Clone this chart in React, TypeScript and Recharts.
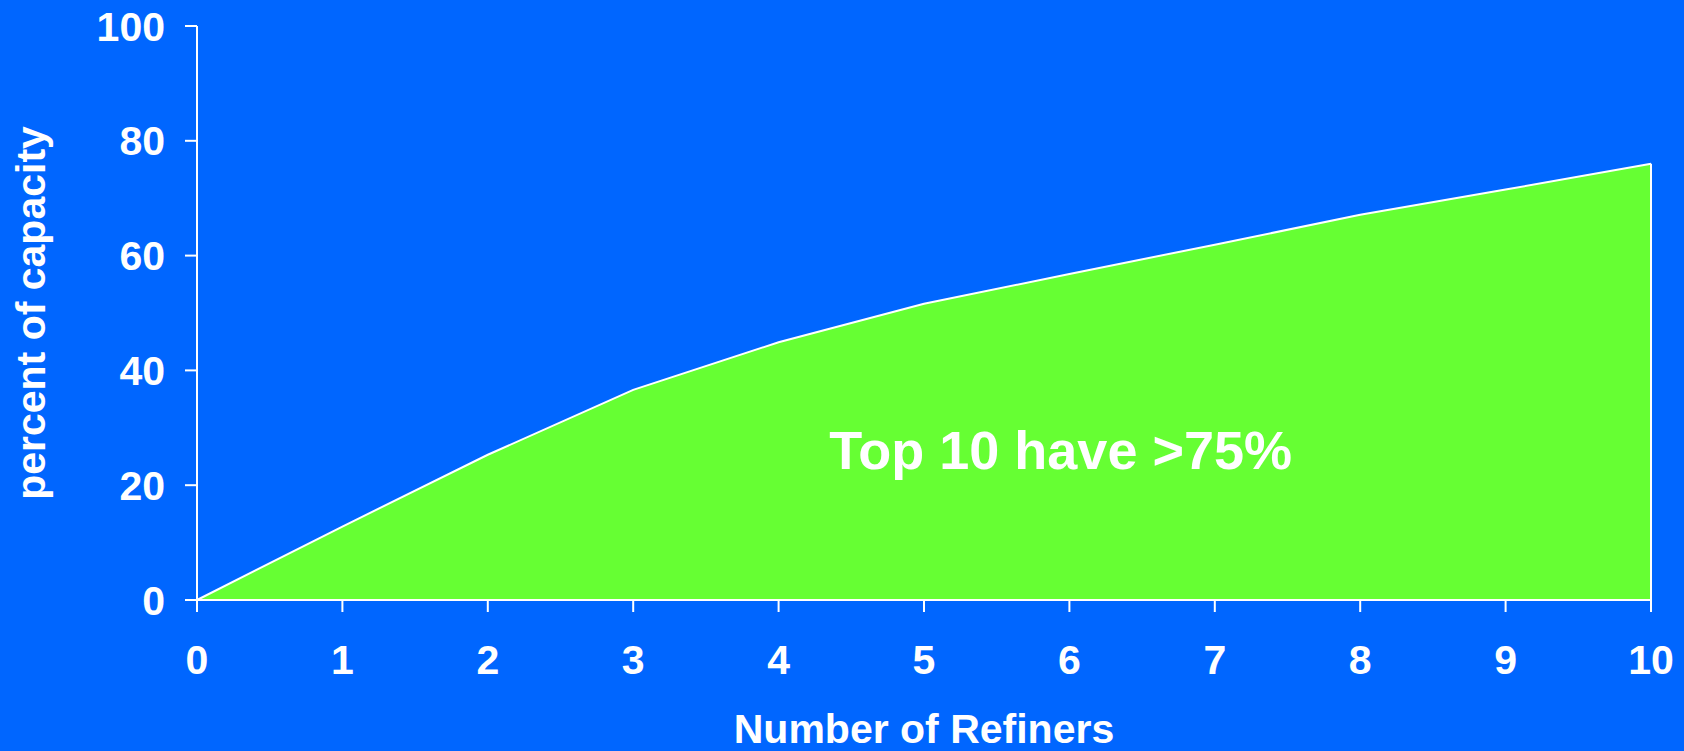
import React from 'react';
import { AreaChart, Area, XAxis, YAxis, ReferenceLine, ReferenceDot, Label } from 'recharts';

// number of refiners on the x axis, cumulative share of capacity on the y axis
const refiners = [0, 1, 2, 3, 4, 5, 6, 7, 8, 9, 10];
const capacityShare = [0, 12.8, 25.3, 36.6, 44.9, 51.6, 56.8, 61.9, 67.1, 71.5, 76.0];
const xTicks = [0, 1, 2, 3, 4, 5, 6, 7, 8, 9, 10];
const yTicks = [0, 20, 40, 60, 80, 100];

const data = refiners.map((n, i) => ({ n, share: capacityShare[i] }));
const lastN = refiners[refiners.length - 1];
const lastShare = capacityShare[capacityShare.length - 1];

const FONT = '"Liberation Sans", Arial, sans-serif';
const BLUE = '#0066FF';
const GREEN = '#66FF33';

const tickStyle = { fill: '#FFFFFF', fontSize: 41, fontWeight: 700, fontFamily: FONT };
const lineStyle = { stroke: '#FFFFFF', strokeWidth: 2 };

const XTitle = (props: any) => {
  const { viewBox } = props;
  return (
    <text
      x={viewBox.x + viewBox.width / 2}
      y={viewBox.y + viewBox.height - 8}
      textAnchor="middle"
      fill="#FFFFFF"
      fontSize={41}
      fontWeight={700}
      fontFamily={FONT}
    >
      Number of Refiners
    </text>
  );
};

const YTitle = (props: any) => {
  const { viewBox } = props;
  const cx = viewBox.x + 45;
  const cy = viewBox.y + viewBox.height / 2;
  return (
    <text
      x={cx}
      y={cy}
      transform={`rotate(-90, ${cx}, ${cy})`}
      textAnchor="middle"
      fill="#FFFFFF"
      fontSize={41}
      fontWeight={700}
      fontFamily={FONT}
    >
      percent of capacity
    </text>
  );
};

const Note = (props: any) => {
  const { viewBox } = props;
  return (
    <text
      x={viewBox.x + (viewBox.width || 0) / 2}
      y={viewBox.y + (viewBox.height || 0) / 2 + 19}
      textAnchor="middle"
      fill="#FFFFFF"
      fontSize={54}
      fontWeight={700}
      fontFamily={FONT}
    >
      Top 10 have &gt;75%
    </text>
  );
};

export default function App() {
  return (
    <div style={{ position: 'absolute', left: 0, top: 0, width: 1684, height: 751, background: BLUE }}>
      <AreaChart width={1684} height={751} data={data} margin={{ top: 26, right: 33, left: 0, bottom: 0 }}>
        <XAxis
          dataKey="n"
          type="number"
          domain={[0, 10]}
          ticks={xTicks}
          interval={0}
          height={151}
          tickSize={12}
          tickMargin={33}
          tick={tickStyle}
          axisLine={lineStyle}
          tickLine={lineStyle}
          label={<XTitle />}
        />
        <YAxis
          type="number"
          domain={[0, 100]}
          ticks={yTicks}
          interval={0}
          width={197}
          tickSize={12}
          tickMargin={20}
          tick={tickStyle}
          axisLine={lineStyle}
          tickLine={lineStyle}
          label={<YTitle />}
        />
        <Area
          type="linear"
          dataKey="share"
          stroke="#FFFFFF"
          strokeWidth={2}
          fill={GREEN}
          fillOpacity={1}
          isAnimationActive={false}
          dot={false}
          activeDot={false}
        />
        <ReferenceLine
          segment={[{ x: lastN, y: 0 }, { x: lastN, y: lastShare }]}
          stroke="#FFFFFF"
          strokeWidth={2}
        />
        <ReferenceDot x={5.94} y={26.1} r={0} fill="none" stroke="none">
          <Label content={<Note />} />
        </ReferenceDot>
      </AreaChart>
    </div>
  );
}
